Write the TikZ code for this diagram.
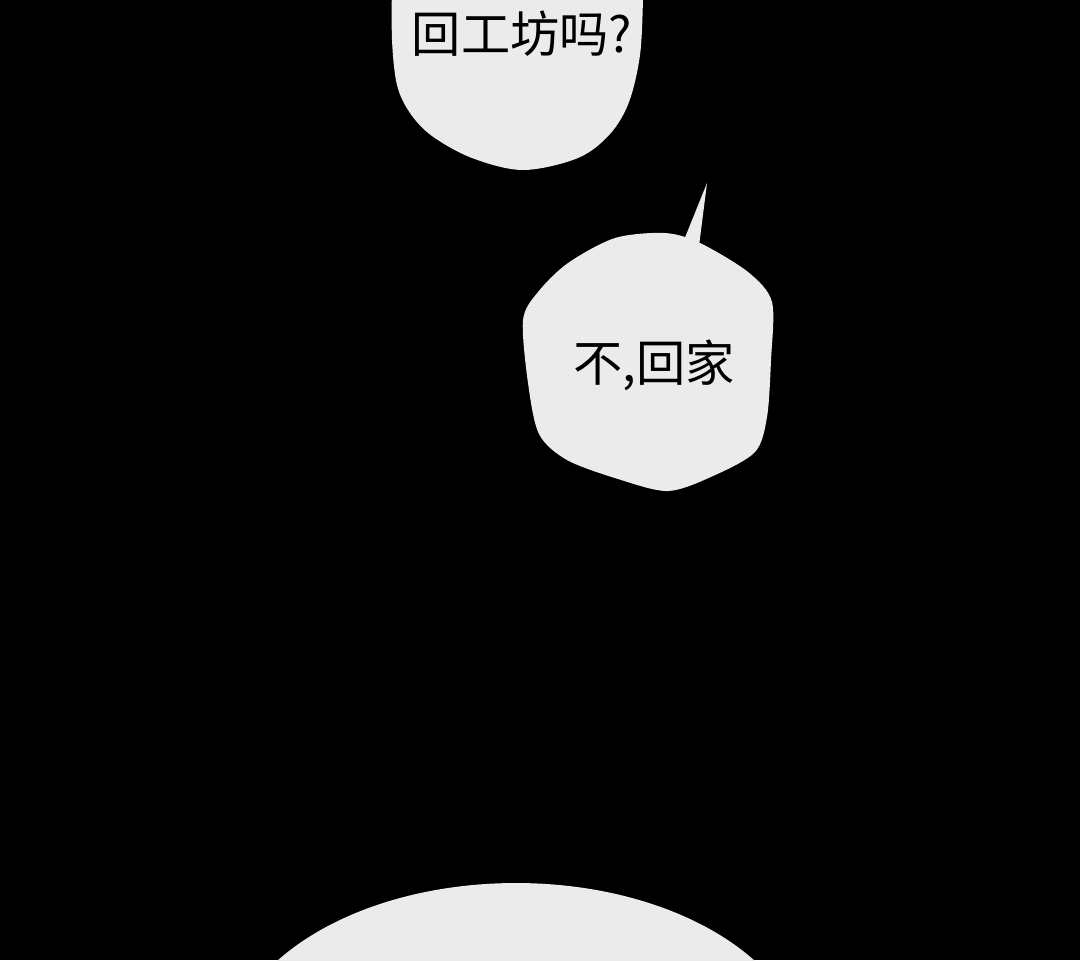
\documentclass[tikz,border=0pt]{standalone}
\usepackage{fontspec}
\setmainfont{Noto Sans CJK SC}
\definecolor{bubble}{HTML}{EBEBEB}
\tikzset{balloon/.style={fill=bubble}, says/.style={text=black, inner sep=0pt}}
\begin{document}
\begin{tikzpicture}[x=0.01cm, y=-0.01cm, font=\fontsize{14pt}{16pt}\selectfont, line join=round, line cap=round]
		\fill[black] (0,0) rectangle (1080,960);
		\useasboundingbox (0,0) rectangle (1080,960);
\begin{scope}
		\clip (0,0) rectangle (1080,960);
		% upper balloon
		\fill[balloon] plot[smooth, tension=0.55] coordinates {(392,-20) (392,40) (397,85) (410,113) (432,136) (472,158) (523,170) (578,158) (610,134) (629,102) (640,55) (643,0) (643,-20)} -- cycle;
		% middle balloon with its tail
		\fill[balloon] (684,240) -- (707,183) -- (699,246) -- cycle;
		\fill[balloon] plot[smooth cycle, tension=0.5] coordinates {(665,233) (700,243) (748,272) (772,302) (771,360) (767,417) (755,452) (713,476) (668,491) (618,479) (567,460) (539,434) (528,383) (523,320) (538,292) (568,263) (615,238)};
		% lower balloon
		\fill[balloon] (516,1063) ellipse[x radius=290, y radius=180];
\end{scope}
		\node[says] (ask) at (522,34) {回工坊吗?};
		\node[says] (reply) at (654,365) {不,回家};
\end{tikzpicture}
\end{document}
